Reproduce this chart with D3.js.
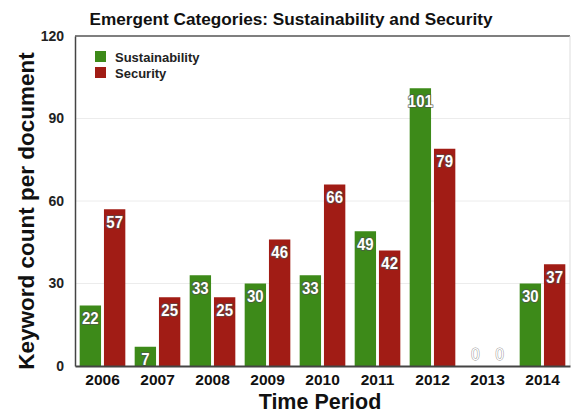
<!DOCTYPE html>
<html><head><meta charset="utf-8">
<script src="https://cdn.jsdelivr.net/npm/d3@7/dist/d3.min.js"></script>
<style>body{margin:0;background:#fff}svg{display:block}</style>
</head><body><svg id="c" width="571" height="414"></svg>
<script>
const years = ["2006","2007","2008","2009","2010","2011","2012","2013","2014"];
const seriesNames = ["Sustainability","Security"];
const sustainability = [22,7,33,30,33,49,101,0,30];
const security = [57,25,25,46,66,42,79,0,37];
const yTicks = [0,30,60,90,120];
const colors = ["#3d8a19","#a11c15"];

const svg = d3.select("#c");
const m = {l:75, r:570, t:36, b:366};
const x = d3.scaleBand().domain(years).range([m.l,m.r]).paddingInner(0.17).paddingOuter(0.085);
const xi = d3.scaleBand().domain(seriesNames).range([0,x.bandwidth()]).paddingInner(0.12);
const y = d3.scaleLinear().domain([0,120]).range([m.b,m.t]);
const font = "Liberation Sans, Arial, Helvetica, sans-serif";

// grid
svg.append("g").selectAll("line").data(yTicks.filter(d=>d>0&&d<120)).join("line")
  .attr("x1",m.l).attr("x2",m.r).attr("y1",d=>y(d)).attr("y2",d=>y(d))
  .attr("stroke","#ececec").attr("stroke-width",1);
// frame
svg.append("line").attr("x1",m.l).attr("x2",m.r).attr("y1",m.t).attr("y2",m.t).attr("stroke","#555").attr("stroke-width",1.5);
svg.append("line").attr("x1",m.r).attr("x2",m.r).attr("y1",m.t).attr("y2",m.b).attr("stroke","#ddd").attr("stroke-width",1);

const data = years.map((yr,i)=>({yr, vals:[sustainability[i],security[i]]}));
const g = svg.append("g").selectAll("g").data(data).join("g")
  .attr("transform",d=>`translate(${x(d.yr)},0)`);
g.selectAll("rect").data(d=>d.vals.map((v,j)=>({v,j}))).join("rect")
  .attr("x",d=>xi(seriesNames[d.j])).attr("width",xi.bandwidth())
  .attr("y",d=>y(d.v)).attr("height",d=>y(0)-y(d.v))
  .attr("fill",d=>colors[d.j]);
g.selectAll("text").data(d=>d.vals.map((v,j)=>({v,j}))).join("text")
  .attr("transform",d=>`translate(${xi(seriesNames[d.j])+xi.bandwidth()/2},${d.v===0 ? y(0)-6 : y(d.v)+18.5}) scale(1,1.12)`)
  .attr("text-anchor","middle")
  .attr("font-family",font).attr("font-size",15).attr("font-weight",d=>d.v===0?"normal":"bold")
  .attr("fill","#fff").attr("stroke",d=>d.v===0?"#999":"rgba(80,80,80,0.65)").attr("stroke-width",d=>d.v===0?1:2)
  .attr("paint-order","stroke").attr("stroke-linejoin","round")
  .text(d=>d.v);

// axes
const ya = svg.append("g").attr("transform",`translate(${m.l},0)`)
  .call(d3.axisLeft(y).tickValues(yTicks).tickSize(0).tickPadding(11));
ya.select(".domain").attr("stroke","#444").attr("stroke-width",1.5);
ya.selectAll("text").attr("font-family",font).attr("font-size",14).attr("font-weight","bold").attr("fill","#222");
const xa = svg.append("g").attr("transform",`translate(0,${m.b})`)
  .call(d3.axisBottom(x).tickSize(0).tickPadding(8));
xa.select(".domain").attr("stroke","#444").attr("stroke-width",2);
xa.selectAll("text").attr("font-family",font).attr("font-size",15.5).attr("font-weight","bold").attr("fill","#111");

// titles
svg.append("text").attr("x",291).attr("y",25).attr("text-anchor","middle")
  .attr("font-family",font).attr("font-size",17.2).attr("font-weight","bold").attr("fill","#111")
  .text("Emergent Categories: Sustainability and Security");
svg.append("text").attr("x",320).attr("y",409).attr("text-anchor","middle")
  .attr("font-family",font).attr("font-size",21.5).attr("font-weight","bold").attr("fill","#111")
  .text("Time Period");
svg.append("text").attr("transform","translate(34,211) rotate(-90)").attr("text-anchor","middle")
  .attr("font-family",font).attr("font-size",22.5).attr("font-weight","bold").attr("fill","#111")
  .text("Keyword count per document");

// legend
const lg = svg.append("g").selectAll("g").data(seriesNames).join("g")
  .attr("transform",(d,i)=>`translate(95,${51+i*16})`);
lg.append("rect").attr("width",11).attr("height",11).attr("fill",(d,i)=>colors[i]);
lg.append("text").attr("x",20).attr("y",10.5).attr("font-family",font).attr("font-size",13)
  .attr("font-weight","bold").attr("fill","#222").text(d=>d);
</script></body></html>
